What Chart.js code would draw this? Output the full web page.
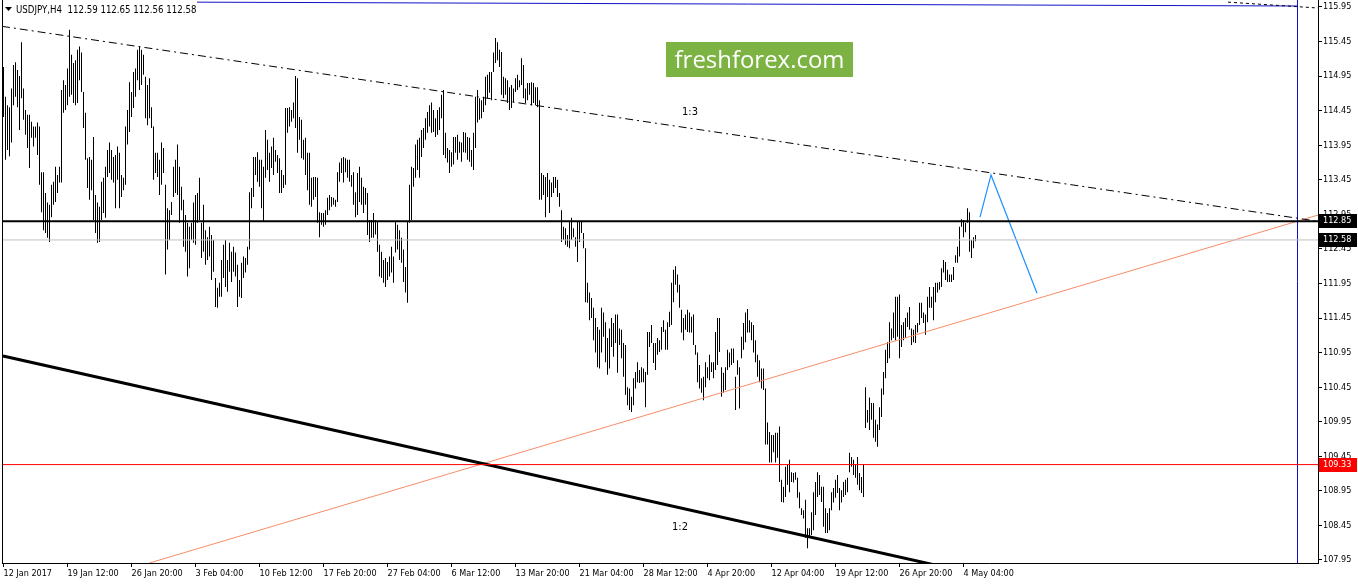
<!DOCTYPE html>
<html><head><meta charset="utf-8">
<script src="https://cdn.jsdelivr.net/npm/chart.js@4.4.1/dist/chart.umd.min.js"></script>
<style>html,body{margin:0;padding:0;background:#fff;overflow:hidden}canvas{display:block}</style>
</head><body>
<canvas id="c" width="1358" height="584"></canvas>
<script>
// ---- DATA (USDJPY H4, 12 Jan 2017 - 5 May 2017), bar highs and lows ----
const highs = [
115.08,114.65,114.53,114.50,114.77,115.11,115.15,115.04,114.95,115.44,
114.77,114.46,114.39,114.39,114.29,114.22,114.22,114.28,114.22,113.56,
113.56,113.26,113.12,113.09,113.38,113.42,113.64,113.52,113.64,114.75,
114.89,114.82,115.06,115.62,115.26,115.14,115.18,115.33,115.38,115.29,
114.72,114.42,113.76,113.78,113.74,114.07,113.23,113.12,113.06,113.42,
113.48,113.64,113.88,113.99,113.88,113.78,113.81,113.93,113.84,113.52,
113.48,114.22,114.46,114.86,114.72,115.01,115.06,115.33,115.38,115.33,
115.26,114.94,114.82,114.92,114.50,114.22,113.84,113.84,113.74,113.99,
113.91,113.38,113.04,113.01,113.13,113.64,113.74,113.96,113.64,113.35,
113.16,112.94,112.83,112.77,112.83,113.12,113.23,113.26,113.48,112.83,
113.09,112.72,112.62,112.77,112.65,112.58,112.03,111.89,111.96,112.29,
112.51,112.58,112.29,112.54,112.41,112.48,112.40,112.22,112.00,112.25,
112.34,112.32,112.48,113.27,113.33,113.78,113.78,113.85,113.74,113.74,
113.64,114.17,114.03,113.84,113.93,114.06,113.88,113.81,113.76,113.59,
113.52,114.49,114.49,114.50,114.46,114.57,114.95,114.92,114.36,114.32,
114.03,114.06,113.84,113.84,113.48,113.49,113.49,113.48,112.98,112.97,
112.97,113.01,113.19,113.23,113.20,113.19,113.16,113.56,113.70,113.76,
113.78,113.76,113.74,113.74,113.52,113.56,113.27,113.55,113.64,113.48,
113.35,113.33,113.26,112.87,112.87,112.97,112.87,112.84,112.51,112.41,
112.29,112.32,112.26,112.34,112.48,112.34,112.84,112.80,112.72,112.61,
112.44,112.19,112.84,113.38,113.64,113.62,113.96,114.03,114.06,114.17,
114.20,114.34,114.43,114.53,114.57,114.46,114.34,114.46,114.50,114.68,
114.75,114.13,113.91,113.88,113.85,114.07,114.07,114.10,114.00,113.99,
114.14,114.13,114.07,114.06,113.88,114.13,114.65,114.75,114.63,114.60,
114.65,114.94,114.97,115.01,115.01,115.29,115.50,115.44,115.33,115.30,
114.94,114.92,114.89,114.79,114.82,114.77,114.92,114.97,114.89,115.21,
115.11,114.77,114.85,114.85,114.86,114.85,114.79,114.79,114.60,113.55,
113.52,113.49,113.55,113.45,113.41,113.49,113.49,113.45,113.26,113.01,
112.77,112.75,112.65,112.84,112.90,112.75,112.62,112.84,112.84,112.84,
112.68,112.46,111.96,111.82,111.74,111.60,111.45,111.32,111.28,111.60,
111.53,111.39,111.16,111.30,111.45,111.38,111.50,111.50,111.30,111.28,
111.09,111.06,110.45,110.43,110.31,110.58,110.67,110.81,110.70,110.74,
110.72,110.67,111.25,111.25,111.35,111.09,111.09,111.16,111.13,111.32,
111.42,111.28,111.39,111.54,111.96,112.15,112.20,112.08,111.93,111.57,
111.45,111.50,111.57,111.53,111.47,111.50,111.06,110.95,110.77,110.58,
110.60,110.81,110.74,110.92,110.81,110.81,111.25,111.45,111.45,110.74,
110.66,110.74,110.99,110.95,111.01,111.01,110.60,110.84,110.74,111.18,
111.38,111.53,111.58,111.42,111.39,111.35,111.13,110.92,110.84,110.72,
110.72,110.43,109.94,109.80,109.76,109.76,109.79,109.79,109.88,109.11,
109.01,109.30,109.33,109.40,109.22,109.21,109.22,109.14,108.93,108.70,
108.67,108.82,108.41,108.41,108.64,108.93,109.08,109.22,109.18,109.01,
109.01,108.70,108.63,108.70,108.93,108.99,109.11,109.18,108.99,108.96,
109.08,109.11,109.14,109.50,109.44,109.40,109.33,109.44,109.21,109.15,
109.33,110.45,110.12,110.30,110.22,110.22,109.98,109.91,110.16,110.43,
110.67,110.99,111.10,111.39,111.30,111.53,111.76,111.76,111.79,111.35,
111.39,111.45,111.53,111.61,111.30,111.28,111.35,111.38,111.67,111.67,
111.53,111.50,111.76,111.90,111.76,111.90,111.96,111.96,111.97,112.17,
112.29,112.26,112.15,112.08,112.08,112.19,112.36,112.48,112.77,112.88,
112.87,112.83,113.04,112.98,112.58,112.62,112.65
];
const lows = [
114.36,113.74,113.88,113.79,113.99,114.53,114.65,114.50,114.17,114.63,
114.32,114.10,113.91,113.62,114.06,113.93,114.06,113.81,113.38,112.98,
112.72,112.68,112.61,112.55,112.91,113.09,113.13,113.26,113.41,113.41,
114.42,114.46,114.53,114.65,114.68,114.56,114.53,114.56,114.89,114.72,
114.20,113.74,113.33,113.16,113.30,112.87,112.68,112.54,112.55,112.87,
112.97,112.90,113.49,113.55,113.45,113.41,113.04,113.45,113.04,113.20,
113.30,113.38,113.96,114.14,114.36,114.49,114.65,114.89,114.75,114.82,
114.97,114.34,114.24,114.34,114.20,113.45,113.55,113.49,113.23,113.38,
113.55,112.08,112.44,112.58,112.94,113.20,113.26,113.23,112.83,113.01,
112.48,112.41,112.05,112.17,112.58,112.54,112.51,112.83,112.87,112.32,
112.41,112.22,112.29,112.34,112.00,112.12,111.61,111.60,111.76,111.76,
112.03,111.90,111.83,112.12,111.97,112.12,112.05,111.61,111.76,111.74,
112.03,112.11,112.22,112.44,113.04,113.20,113.52,113.42,113.35,113.04,
112.84,113.48,113.59,113.42,113.62,113.52,113.71,113.55,113.26,113.26,
113.33,113.38,114.13,114.22,114.29,114.34,114.20,113.84,114.03,113.76,
113.74,113.52,113.30,113.09,113.06,113.16,113.20,112.83,112.62,112.80,
112.77,112.80,112.94,113.01,113.06,113.09,113.06,113.13,113.42,113.55,
113.41,113.56,113.48,113.42,113.35,113.09,112.91,112.94,113.13,113.09,
112.97,113.09,112.65,112.55,112.61,112.61,112.66,112.41,112.05,112.03,
111.96,111.90,112.00,112.05,112.11,111.96,112.40,112.44,112.29,112.25,
111.97,111.82,111.67,112.83,112.87,113.35,113.48,113.59,113.48,113.78,
113.91,114.03,114.13,114.22,114.13,114.14,114.07,114.10,114.17,114.34,
113.81,113.76,113.70,113.55,113.64,113.67,113.84,113.74,113.84,113.71,
113.85,113.84,113.74,113.71,113.64,113.59,113.91,114.28,114.32,114.34,
114.43,114.53,114.63,114.71,114.60,115.01,115.14,115.18,115.08,114.68,
114.63,114.68,114.56,114.46,114.49,114.57,114.72,114.75,114.79,114.82,
114.63,114.56,114.60,114.68,114.53,114.56,114.53,114.50,113.16,113.16,
113.23,112.91,113.20,112.97,113.20,113.26,113.33,113.20,113.06,112.55,
112.58,112.51,112.48,112.46,112.58,112.62,112.48,112.26,112.55,112.68,
112.46,111.68,111.67,111.42,111.45,111.13,110.95,110.74,110.72,110.95,
111.18,110.81,110.63,110.72,111.03,110.89,111.09,110.66,111.06,110.87,
110.60,110.34,110.19,110.12,110.09,110.19,110.43,110.52,110.51,110.52,
110.52,110.16,110.63,111.03,111.09,110.80,110.70,110.92,110.96,110.99,
111.25,110.99,110.99,111.32,111.35,111.68,111.93,111.82,111.60,111.24,
111.13,111.28,111.25,111.24,111.24,111.06,110.92,110.52,110.43,110.37,
110.26,110.45,110.58,110.55,110.67,110.58,110.70,110.77,110.96,110.31,
110.37,110.41,110.70,110.74,110.77,110.80,110.12,110.63,110.14,110.87,
110.99,111.10,111.24,111.24,111.13,110.95,110.81,110.60,110.52,110.43,
110.41,109.62,109.62,109.36,109.36,109.51,109.36,109.43,109.08,108.79,
108.78,108.86,109.04,108.93,109.08,109.07,109.11,108.85,108.70,108.60,
108.55,108.27,108.12,108.27,108.31,108.38,108.60,108.86,108.89,108.79,
108.43,108.34,108.34,108.38,108.67,108.78,108.85,108.92,108.67,108.78,
108.86,108.89,108.93,109.22,109.30,109.18,109.14,109.04,108.96,108.92,
108.86,109.86,109.94,109.83,109.98,109.72,109.66,109.59,109.83,110.02,
110.34,110.58,110.80,110.87,111.13,111.16,111.13,111.18,110.87,111.03,
111.13,111.16,111.32,111.28,111.06,111.10,111.09,111.24,111.35,111.45,
111.38,111.21,111.39,111.60,111.60,111.42,111.68,111.82,111.86,111.90,
112.11,112.00,111.97,111.97,111.97,112.00,112.25,112.25,112.34,112.77,
112.62,112.69,112.83,112.41,112.32,112.46,112.56
];
const timeLabels = ["12 Jan 2017","19 Jan 12:00","26 Jan 20:00","3 Feb 04:00","10 Feb 12:00","17 Feb 20:00","27 Feb 04:00","6 Mar 12:00","13 Mar 20:00","21 Mar 04:00","28 Mar 12:00","4 Apr 20:00","12 Apr 04:00","19 Apr 12:00","26 Apr 20:00","4 May 04:00"];
const barsPerLabel = 32;
const priceTicks = [107.95,108.45,108.95,109.45,109.95,110.45,110.95,111.45,111.95,112.45,112.95,113.45,113.95,114.45,114.95,115.45,115.95];
const resistanceLevel = 112.85;
const bidLevel = 112.58;
const supportLevel = 109.33;
const headerText = "USDJPY,H4  112.59 112.65 112.56 112.58";
// drawn objects (bar index, price)
const line13 = [{x:-0.75,y:115.67},{x:657.25,y:112.85}];
const line12 = [{x:-0.25,y:110.90},{x:470,y:107.85}];
const lineUp = [{x:73,y:107.907},{x:657.25,y:112.94}];
const forecast = [{x:488.25,y:112.91},{x:493.75,y:113.52},{x:516.75,y:111.81}];
const channelTop = [{x:612.25,y:116.02},{x:657.25,y:115.935}];
const blueTop = [{x:96.75,y:116.02},{x:647,y:115.964}];
const shiftBar = 647;
const ratioLabels = [{text:"1:3",x:343.25,y:114.43},{text:"1:2",x:338.25,y:108.43}];

const X_MIN=-0.75, X_MAX=657.25, Y_MIN=107.9066, Y_MAX=116.051;
const FONT_FAMILY="'DejaVu Sans Condensed','DejaVu Sans',sans-serif";
const FONT_SIZE=9;

function hline(v,color,w){return {type:'line',data:[{x:X_MIN,y:v},{x:X_MAX,y:v}],borderColor:color,borderWidth:w,pointRadius:0,fill:false,order:0,clip:0};}
function seg(pts,color,w,dash){return {type:'line',data:pts,borderColor:color,borderWidth:w,borderDash:dash||[],pointRadius:0,fill:false,tension:0,order:0,clip:0};}

const decor={
  id:'decor',
  beforeDatasetsDraw(chart){
    const ctx=chart.ctx;
    ctx.save();
    ctx.fillStyle='#7cb342';
    ctx.fillRect(666,42,187,35);
    let fs=26;
    ctx.font=fs+"px 'Open Sans','Liberation Sans',sans-serif";
    const w=ctx.measureText('freshforex.com').width;
    fs=fs*170/w;
    ctx.font=fs.toFixed(2)+"px 'Open Sans','Liberation Sans',sans-serif";
    ctx.fillStyle='#fff';
    ctx.textAlign='center';ctx.textBaseline='middle';
    ctx.fillText('freshforex.com',759.5,61);
    ctx.restore();
  },
  afterDraw(chart){
    const {ctx,chartArea:a,scales:{x,y}}=chart;
    ctx.save();
    ctx.fillStyle='#000';
    ctx.fillRect(a.left,a.top,1,a.bottom-a.top);
    ctx.font=FONT_SIZE+'px '+FONT_FAMILY;
    ctx.textBaseline='middle';ctx.textAlign='left';
    [[resistanceLevel,'#000'],[bidLevel,'#000'],[supportLevel,'#ff0000']].forEach(([v,c])=>{
      const py=Math.round(y.getPixelForValue(v));
      ctx.fillStyle=c;ctx.fillRect(a.right+1,py-7,38,14);
      ctx.fillStyle='#fff';ctx.fillText(v.toFixed(2),a.right+5,py);
    });
    ctx.fillStyle='#000';
    ctx.font='11px '+FONT_FAMILY;
    ctx.textAlign='center';
    ratioLabels.forEach(l=>ctx.fillText(l.text,x.getPixelForValue(l.x),y.getPixelForValue(l.y)));
    // header
    ctx.textAlign='left';
    ctx.font='9.6px '+FONT_FAMILY;
    ctx.beginPath();ctx.moveTo(5,7);ctx.lineTo(12,7);ctx.lineTo(8.5,11);ctx.closePath();ctx.fill();
    ctx.fillText(headerText,16,10);
    ctx.restore();
  }
};

new Chart(document.getElementById('c'),{
  type:'bar',
  data:{datasets:[
    {type:'bar',data:highs.map((h,k)=>({x:k,y:[lows[k],h]})),backgroundColor:'#000',borderWidth:0,barThickness:1,inflateAmount:0,grouped:false,order:5},
    hline(resistanceLevel,'#000',2),
    hline(bidLevel,'#c0c0c0',1),
    hline(supportLevel,'#ff0000',1),
    seg(line13,'#000',1,[8,4,2,4]),
    seg(line12,'#000',3),
    seg(lineUp,'#f78e6a',1),
    seg(forecast,'#1e90ff',1.2),
    seg(channelTop,'#000',1,[3,3]),
    seg(blueTop,'#1010c8',1),
    seg([{x:shiftBar,y:Y_MIN},{x:shiftBar,y:Y_MAX}],'#1010c8',1)
  ]},
  options:{
    responsive:false,animation:false,devicePixelRatio:1,
    layout:{padding:{left:2,top:0,right:0,bottom:0}},
    plugins:{legend:{display:false},tooltip:{enabled:false}},
    scales:{
      x:{type:'linear',min:X_MIN,max:X_MAX,offset:false,
        grid:{display:true,drawOnChartArea:false,drawTicks:true,tickLength:4,color:'#000',offset:false},
        border:{display:true,color:'#000',width:1},
        afterBuildTicks(s){s.ticks=timeLabels.map((_,k)=>({value:k*barsPerLabel}));},
        afterFit(s){s.height=21;s.paddingLeft=0;s.paddingRight=0;s.paddingTop=0;s.paddingBottom=0;},
        ticks:{autoSkip:false,maxRotation:0,minRotation:0,align:'start',padding:1,color:'#000',
          font:{family:FONT_FAMILY,size:FONT_SIZE},
          callback:(v,i)=>timeLabels[i]}
      },
      y:{type:'linear',position:'right',min:Y_MIN,max:Y_MAX,
        grid:{display:true,drawOnChartArea:false,drawTicks:true,tickLength:4,color:'#000'},
        border:{display:true,color:'#000',width:1},
        afterBuildTicks(s){s.ticks=priceTicks.map(v=>({value:v}));},
        afterFit(s){s.width=40;s.paddingTop=0;s.paddingBottom=0;s.paddingLeft=0;s.paddingRight=0;},
        ticks:{autoSkip:false,padding:1,color:'#000',font:{family:FONT_FAMILY,size:FONT_SIZE},
          callback:v=>v.toFixed(2)}
      }
    }
  },
  plugins:[decor]
});
</script>
</body></html>
